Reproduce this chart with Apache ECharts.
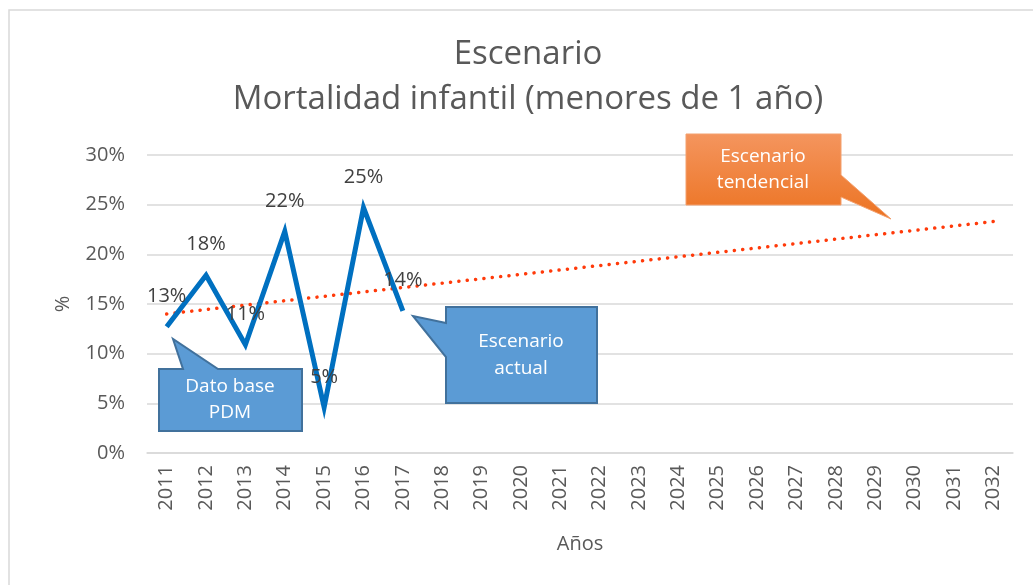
<!DOCTYPE html>
<html>
<head>
<meta charset="utf-8">
<title>Escenario - Mortalidad infantil</title>
<script src="https://cdn.jsdelivr.net/npm/echarts@6/dist/echarts.min.js"></script>
<style>
  html, body { margin: 0; padding: 0; background: #fff; }
  #main { width: 1033px; height: 585px; }
</style>
</head>
<body>
<div id="main"></div>
<script type="text/javascript">
// años del eje x
var anios = ['2011','2012','2013','2014','2015','2016','2017','2018','2019','2020','2021',
             '2022','2023','2024','2025','2026','2027','2028','2029','2030','2031','2032'];
// escenario actual (%), solo hay datos hasta 2017
var actual = [12.7, 17.9, 10.9, 22.3, 4.6, 24.7, 14.3];
// linea de tendencia: valor inicial (2011) y final (2032)
var tendencia = [14.0, 23.3];

var fuente = '"Open Sans", "Noto Sans", sans-serif';

var serieTend = anios.map(function (a, i) {
  if (i === 0) return tendencia[0];
  if (i === anios.length - 1) return tendencia[1];
  return null;
});

var myChart = echarts.init(document.getElementById('main'));

var option = {
  backgroundColor: '#fff',
  textStyle: { fontFamily: fuente },
  grid: { left: 147, right: 20, top: 155, bottom: 132 },
  xAxis: {
    type: 'category',
    data: anios,
    boundaryGap: true,
    name: 'Años',
    nameLocation: 'middle',
    nameGap: 81,
    nameTextStyle: { fontFamily: fuente, fontSize: 20, color: '#595959' },
    axisTick: { show: false },
    axisLine: { show: true, lineStyle: { color: '#D9D9D9', width: 1.5 } },
    axisLabel: { rotate: 90, margin: 12, fontSize: 20, color: '#595959', fontFamily: fuente }
  },
  yAxis: {
    type: 'value',
    min: 0,
    max: 30,
    interval: 5,
    name: '%',
    nameLocation: 'middle',
    nameGap: 74,
    nameRotate: 90,
    nameTextStyle: { fontFamily: fuente, fontSize: 20, color: '#595959' },
    axisLine: { show: false },
    axisTick: { show: false },
    splitLine: { lineStyle: { color: '#D9D9D9', width: 1.5 } },
    axisLabel: { formatter: '{value}%', margin: 22, fontSize: 20, color: '#595959', fontFamily: fuente }
  },
  series: [
    {
      name: 'Tendencia',
      type: 'line',
      data: serieTend,
      connectNulls: true,
      symbol: 'none',
      silent: true,
      lineStyle: { color: '#FF3A0A', width: 3.5, type: [0.1, 8.3], cap: 'round' },
      z: 3
    },
    {
      name: 'Escenario actual',
      type: 'line',
      data: actual,
      symbol: 'circle',
      symbolSize: 1,
      showSymbol: true,
      itemStyle: { color: 'rgba(0,0,0,0)' },
      lineStyle: { color: '#0070C0', width: 5, join: 'miter' },
      label: {
        show: true,
        position: 'top',
        distance: 20,
        formatter: function (p) { return Math.round(p.value) + '%'; },
        fontFamily: fuente,
        fontSize: 20,
        color: '#404040'
      },
      labelLayout: { hideOverlap: false },
      z: 4
    }
  ],
  graphic: [
    {
      type: 'rect',
      shape: { x: 9, y: 10, width: 1040, height: 600 },
      style: { fill: 'none', stroke: '#D9D9D9', lineWidth: 1.5 },
      silent: true,
      z: 0
    },
    // titulo
    {
      type: 'text',
      x: 528, y: 77,
      style: {
        text: 'Escenario\nMortalidad infantil (menores de 1 año)',
        fill: '#595959', fontFamily: fuente, fontSize: 33,
        lineHeight: 45, align: 'center', verticalAlign: 'middle'
      },
      z: 5
    },
    {
      type: 'polygon',
      shape: { points: [[159,369],[183,369],[173,339],[218,369],[302,369],[302,431],[159,431]] },
      style: { fill: '#5B9BD5', stroke: '#41719C', lineWidth: 2 },
      z: 10
    },
    {
      type: 'text',
      x: 230, y: 400,
      style: {
        text: 'Dato base\nPDM', fill: '#fff', fontFamily: fuente, fontSize: 19,
        lineHeight: 26, align: 'center', verticalAlign: 'middle'
      },
      z: 11
    },
    {
      type: 'polygon',
      shape: { points: [[446,307],[597,307],[597,403],[446,403],[446,357],[413,316],[446,323]] },
      style: { fill: '#5B9BD5', stroke: '#41719C', lineWidth: 2 },
      z: 10
    },
    {
      type: 'text',
      x: 521, y: 355,
      style: {
        text: 'Escenario\nactual', fill: '#fff', fontFamily: fuente, fontSize: 19,
        lineHeight: 27, align: 'center', verticalAlign: 'middle'
      },
      z: 11
    },
    {
      type: 'polygon',
      shape: { points: [[686,134],[841,134],[841,175],[891,219],[841,197],[841,205],[686,205]] },
      style: {
        fill: new echarts.graphic.LinearGradient(0, 0, 0, 1, [
          { offset: 0, color: '#F4955E' },
          { offset: 1, color: '#EC7322' }
        ]),
        stroke: '#F3A06E', lineWidth: 1
      },
      z: 10
    },
    {
      type: 'text',
      x: 763, y: 170,
      style: {
        text: 'Escenario\ntendencial', fill: '#fff', fontFamily: fuente, fontSize: 19,
        lineHeight: 26, align: 'center', verticalAlign: 'middle'
      },
      z: 11
    }
  ]
};

myChart.setOption(option);
</script>
</body>
</html>
